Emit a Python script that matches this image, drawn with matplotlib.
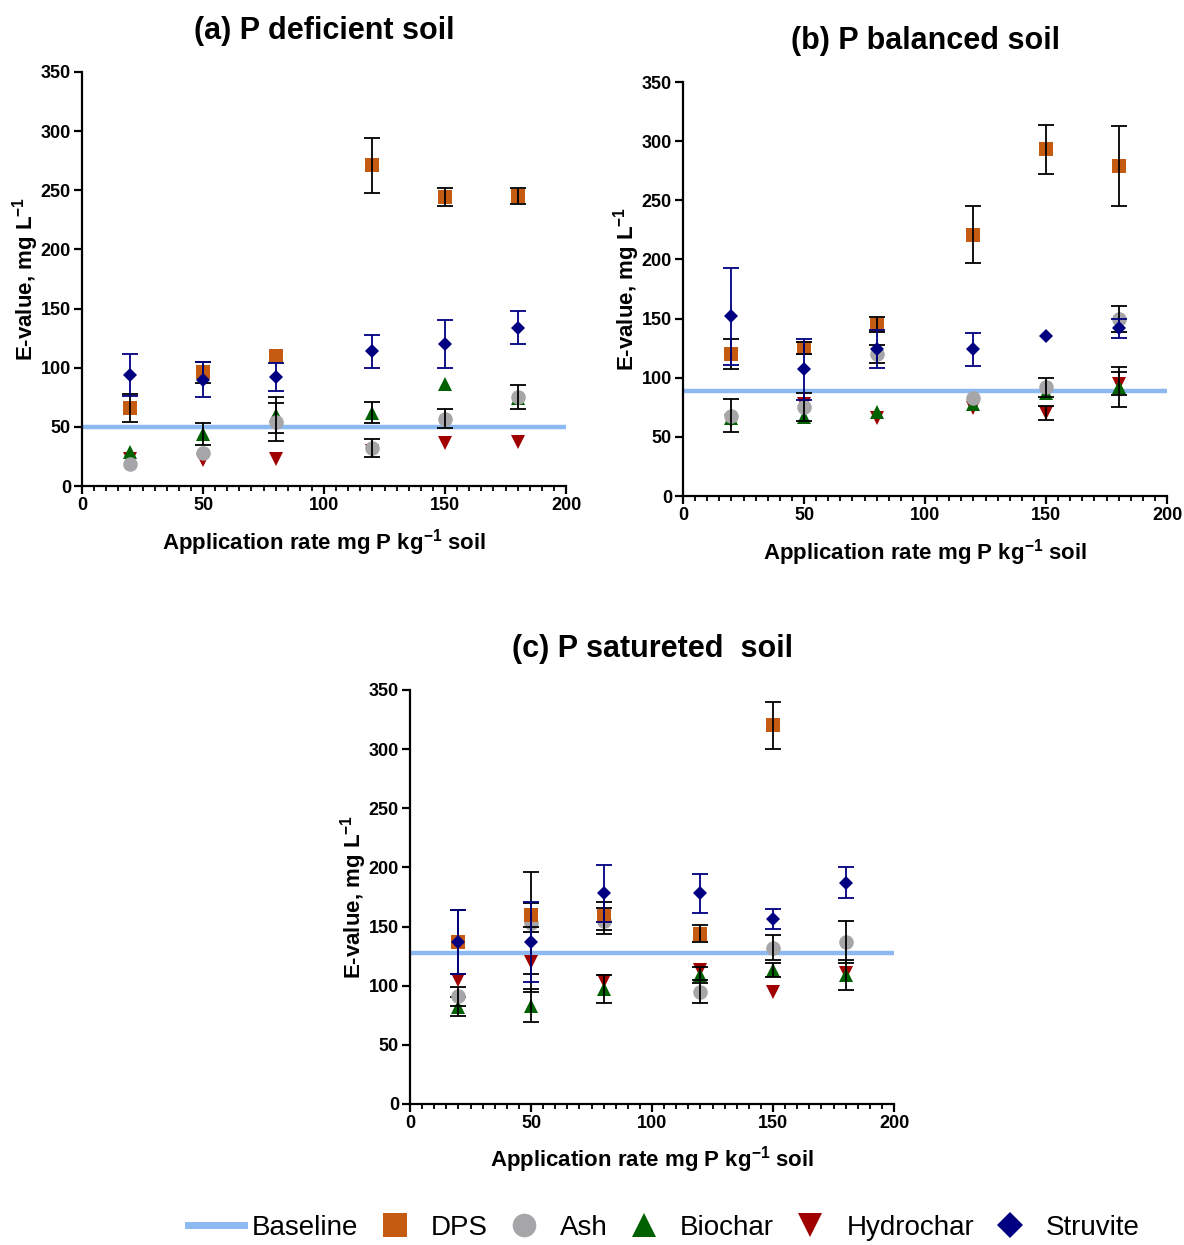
import numpy as np
import matplotlib
matplotlib.use("Agg")
import matplotlib.pyplot as plt
from matplotlib.ticker import MultipleLocator
from matplotlib.lines import Line2D

plt.rcParams['font.family'] = ['Liberation Sans', 'DejaVu Sans']
plt.rcParams['mathtext.fontset'] = 'custom'
plt.rcParams['mathtext.rm'] = 'Liberation Sans'
plt.rcParams['mathtext.bf'] = 'Liberation Sans:bold'

rates = [20, 50, 80, 120, 150, 180]

# ---- (a) P deficient soil ----
a_dps = [66, 96, 110, 271, 244, 245]
a_dps_err = [12, 9, 0, 23.5, 7.5, 7]
a_ash = [19, 28, 54, 32, 57, 75]
a_ash_err = [0, 0, 16, 7.5, 8, 10]
a_bio = [29, 44, 60, 62, 86, 74]
a_bio_err = [0, 9, 15, 9, 0, 0]
a_hyd = [23, 22, 23, 30, 36, 37]
a_hyd_err = [0, 0, 0, 0, 0, 0]
a_str = [94, 90, 92, 114, 120, 134]
a_str_err = [18, 15, 12, 14, 20, 14]
a_base = 50

# ---- (b) P balanced soil ----
b_dps = [120, 125, 145, 221, 293, 279]
b_dps_err = [13, 5, 6, 24, 21, 34]
b_ash = [68, 75, 120, 83, 92, 150]
b_ash_err = [14, 12, 7.5, 0, 8, 11]
b_bio = [66, 67, 71, 78, 87, 92]
b_bio_err = [0, 0, 0, 0, 0, 17]
b_hyd = [63, 78, 66, 74, 70, 95]
b_hyd_err = [0, 0, 0, 0, 6, 10]
b_str = [152, 107, 124, 124, 135, 142]
b_str_err = [41, 26, 16, 14, 0, 8]
b_base = 89

# ---- (c) P satureted soil ----
c_dps = [137, 160, 159, 144, 320, 0]
c_dps_err = [27, 10, 12, 7, 20, 0]
c_ash = [91, 153, 155, 95, 132, 137]
c_ash_err = [8, 43, 11, 10, 10.5, 18]
c_bio = [82, 83, 97, 109, 113, 109]
c_bio_err = [8, 14, 12, 7, 6, 13]
c_hyd = [105, 120, 104, 113, 95, 111]
c_hyd_err = [0, 25, 0, 0, 0, 0]
c_str = [137, 137, 178, 178, 156, 187]
c_str_err = [27, 34, 24, 16.5, 8.5, 13]
c_base = 128

col_base = '#8DB9F2'
col_dps = '#C55A11'
col_ash = '#A6A5A8'
col_bio = '#006100'
col_hyd = '#A00000'
col_str = '#000080'

fig = plt.figure(figsize=(11.84, 12.45), dpi=100)
ax_a = fig.add_axes([0.0693, 0.6096, 0.4088, 0.3326])
ax_b = fig.add_axes([0.5769, 0.6016, 0.4088, 0.3325])
ax_c = fig.add_axes([0.3463, 0.1133, 0.4088, 0.3325])


def series(ax, y, err, col, marker, ms, ecol, z):
    x = np.array(rates)
    y = np.array(y, dtype=float)
    err = np.array(err, dtype=float)
    keep = y > 0
    ax.plot(x[keep], y[keep], linestyle='none', marker=marker, ms=ms,
            color=col, markeredgewidth=0, zorder=z, clip_on=False)
    m = (err > 0) & keep
    if m.any():
        ax.errorbar(x[m], y[m], yerr=err[m], fmt='none', ecolor=ecol,
                    elinewidth=1.3, capsize=5.5, capthick=1.3, zorder=z + 0.5)


def panel(ax, title, dps, dps_e, ash, ash_e, bio, bio_e, hyd, hyd_e, stru, stru_e, base):
    ax.plot([0, 200], [base, base], color=col_base, lw=3.2, zorder=1, solid_capstyle='butt')
    series(ax, hyd, hyd_e, col_hyd, 'v', 10, 'black', 3)
    series(ax, bio, bio_e, col_bio, '^', 10, 'black', 4)
    series(ax, ash, ash_e, col_ash, 'o', 10.5, 'black', 5)
    series(ax, dps, dps_e, col_dps, 's', 10, 'black', 6)
    series(ax, stru, stru_e, col_str, 'D', 7.5, col_str, 7)
    ax.set_xlim(0, 200)
    ax.set_ylim(0, 350)
    ax.xaxis.set_major_locator(MultipleLocator(50))
    ax.xaxis.set_minor_locator(MultipleLocator(5))
    ax.yaxis.set_major_locator(MultipleLocator(50))
    for s in ['top', 'right']:
        ax.spines[s].set_visible(False)
    for s in ['left', 'bottom']:
        ax.spines[s].set_linewidth(1.6)
    ax.tick_params(which='major', direction='out', length=6, width=1.6, labelsize=13, pad=2)
    ax.tick_params(which='minor', direction='out', length=3.5, width=1.3)
    for lab in ax.get_xticklabels() + ax.get_yticklabels():
        lab.set_fontweight('bold')
    ax.set_xlabel('Application rate mg P kg$^{\\mathbf{-1}}$ soil', fontsize=16,
                  fontweight='bold', labelpad=9)
    ax.set_ylabel('E-value, mg L$^{\\mathbf{-1}}$', fontsize=16, fontweight='bold', labelpad=0)
    ax.set_title(title, fontsize=22, fontweight='bold', pad=24)


panel(ax_a, '(a) P deficient soil', a_dps, a_dps_err, a_ash, a_ash_err, a_bio, a_bio_err,
      a_hyd, a_hyd_err, a_str, a_str_err, a_base)
panel(ax_b, '(b) P balanced soil', b_dps, b_dps_err, b_ash, b_ash_err, b_bio, b_bio_err,
      b_hyd, b_hyd_err, b_str, b_str_err, b_base)
panel(ax_c, '(c) P satureted  soil', c_dps, c_dps_err, c_ash, c_ash_err, c_bio, c_bio_err,
      c_hyd, c_hyd_err, c_str, c_str_err, c_base)

handles = [
    Line2D([], [], color=col_base, lw=5),
    Line2D([], [], color=col_dps, marker='s', ls='none', ms=17, mew=0),
    Line2D([], [], color=col_ash, marker='o', ls='none', ms=17, mew=0),
    Line2D([], [], color=col_bio, marker='^', ls='none', ms=17, mew=0),
    Line2D([], [], color=col_hyd, marker='v', ls='none', ms=17, mew=0),
    Line2D([], [], color=col_str, marker='D', ls='none', ms=13, mew=0),
]
labels = ['Baseline', 'DPS', 'Ash', 'Biochar', 'Hydrochar', 'Struvite']
fig.legend(handles, labels, loc='center', bbox_to_anchor=(0.561, 0.0135), ncol=6,
           frameon=False, fontsize=20, handlelength=2.0, handletextpad=0.3,
           columnspacing=0.3)

fig.savefig('out.png', dpi=100)
